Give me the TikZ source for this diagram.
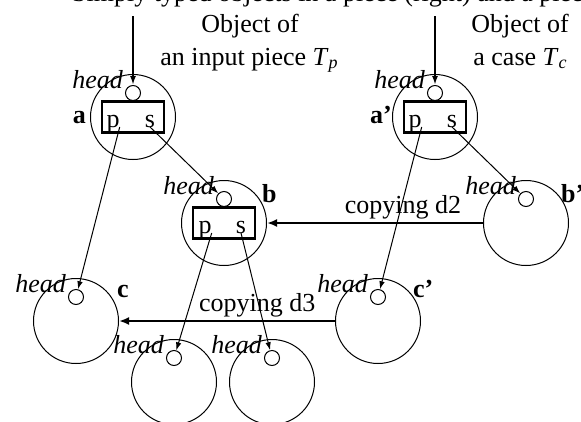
\documentclass[tikz,border=0pt]{standalone}
\usepackage{fontspec}
\setmainfont{Liberation Serif}
\usetikzlibrary{arrows.meta}
\tikzset{
  bigc/.style={circle, draw, line width=1pt, minimum size=85pt, inner sep=0pt},
  hd/.style={circle, draw, line width=1pt, minimum size=15pt, inner sep=0pt},
  bx/.style={draw, line width=2.4pt, minimum width=62pt, minimum height=31pt, inner sep=0pt},
  txt/.style={inner sep=0pt, font=\fontsize{26}{33}\selectfont},
  hl/.style={txt, anchor=base east, font=\fontsize{26}{33}\selectfont\itshape},
  nm/.style={txt, font=\fontsize{26}{33}\selectfont\bfseries},
  thin/.style={line width=1pt, -{Latex[length=8pt,width=5.5pt]}},
  feed/.style={line width=2pt, -{Latex[length=9pt,width=6pt]}},
  copy/.style={line width=2.6pt, -{Latex[length=10pt,width=8pt]}}
}
\newcommand{\Tsub}[1]{\textit{T}\raisebox{-0.3ex}{\fontsize{18}{18}\selectfont\textit{#1}}}
\begin{document}
\begin{tikzpicture}[x=1pt,y=-1pt]
\useasboundingbox (0,0) rectangle (581,421);
% clipped caption line at top
\node[txt, anchor=base west] (cap) at (72,1.5) {Simply typed objects in a piece (right) and a piece};
% texts
\node[txt, anchor=base] (t1) at (250,32) {Object of};
\node[txt, anchor=base] (t2) at (249,65) {an input piece \Tsub{p}};
\node[txt, anchor=base] (t3) at (520,32) {Object of};
\node[txt, anchor=base] (t4) at (520,65) {a case \Tsub{c}};
% big circles
\node[bigc] (A) at (133,117) {};
\node[bigc] (A2) at (435,117) {};
\node[bigc] (B) at (224,223) {};
\node[bigc] (B2) at (526,223) {};
\node[bigc] (C) at (76,321) {};
\node[bigc] (C2) at (378,321) {};
\node[bigc] (D1) at (174,382) {};
\node[bigc] (D2) at (272,382) {};
% head circles
\node[hd] (Ah) at (133,93) {};
\node[hd] (A2h) at (435,93) {};
\node[hd] (Bh) at (224,199) {};
\node[hd] (B2h) at (526,199) {};
\node[hd] (Ch) at (76,297) {};
\node[hd] (C2h) at (378,297) {};
\node[hd] (D1h) at (174,358) {};
\node[hd] (D2h) at (272,358) {};
% head labels
\node[hl] (lAh) at (123,88) {head};
\node[hl] (lA2h) at (425,88) {head};
\node[hl] (lBh) at (214,194) {head};
\node[hl] (lB2h) at (516,194) {head};
\node[hl] (lCh) at (66,292) {head};
\node[hl] (lC2h) at (368,292) {head};
\node[hl] (lD1h) at (164,353) {head};
\node[hl] (lD2h) at (262,353) {head};
% boxes
\node[bx] (Ab) at (133,117) {};
\node[bx] (A2b) at (435,117) {};
\node[bx] (Bb) at (224,223) {};
\node[txt, anchor=base] (Ap) at (113,127) {p};
\node[txt, anchor=base] (As) at (150,127) {s};
\node[txt, anchor=base] (A2p) at (415,127) {p};
\node[txt, anchor=base] (A2s) at (452,127) {s};
\node[txt, anchor=base] (Bp) at (205,233) {p};
\node[txt, anchor=base] (Bs) at (241,233) {s};
% names
\node[nm, anchor=base east] (na) at (86,123) {a};
\node[nm, anchor=base east] (na2) at (392,123) {a’};
\node[nm, anchor=base west] (nb) at (262,202) {b};
\node[nm, anchor=base west] (nb2) at (561,202) {b’};
\node[nm, anchor=base west] (nc) at (117,297) {c};
\node[nm, anchor=base west] (nc2) at (413,297) {c’};
% feed arrows
\coordinate (topA) at (133,16);
\coordinate (topA2) at (435,16);
\draw[feed] (topA) -- (Ah);
\draw[feed] (topA2) -- (A2h);
% pointer arrows
\draw[thin] (Ap.base east) -- (Ch);
\draw[thin] (As.base) -- (Bh);
\draw[thin] (A2p.base east) -- (C2h);
\draw[thin] (A2s.base) -- (B2h);
\draw[thin] (Bp.base east) -- (D1h);
\draw[thin] (Bs.base) -- (D2h);
% copying arrows
\draw[copy] (B2) -- node[txt, anchor=base, pos=0.37, yshift=10pt] (cd2) {copying d2} (B);
\draw[copy] (C2) -- node[txt, anchor=base, pos=0.36, yshift=10pt] (cd3) {copying d3} (C);
\end{tikzpicture}
\end{document}
